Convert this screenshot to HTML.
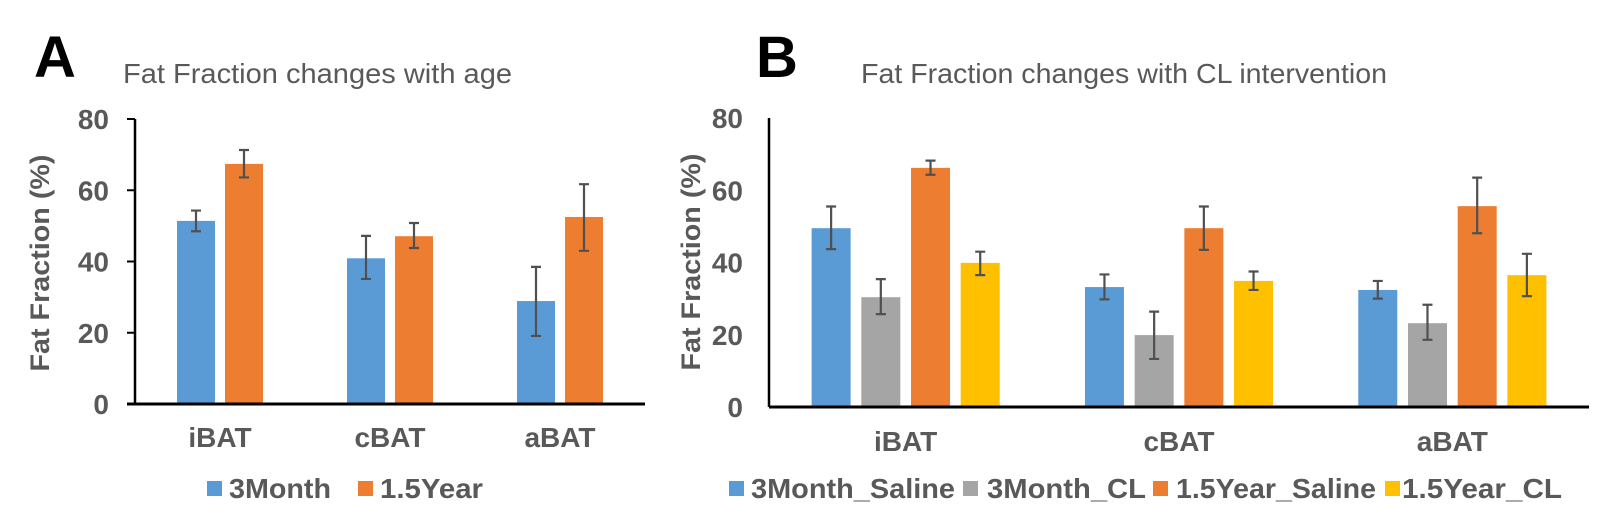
<!DOCTYPE html>
<html><head><meta charset="utf-8"><style>
html,body{margin:0;padding:0;background:#fff;}
svg{display:block;font-family:"Liberation Sans",Arial,sans-serif;}
</style></head><body>
<svg id="fig" width="1612" height="528" viewBox="0 0 1612 528" xmlns="http://www.w3.org/2000/svg">
<text x="34" y="77" font-size="58" font-weight="bold" fill="#000">A</text>
<text x="123" y="83" font-size="28" fill="#595959" textLength="389" lengthAdjust="spacingAndGlyphs">Fat Fraction changes with age</text>
<text x="756" y="77" font-size="58" font-weight="bold" fill="#000">B</text>
<text x="861" y="83" font-size="28" fill="#595959" textLength="526" lengthAdjust="spacingAndGlyphs">Fat Fraction changes with CL intervention</text>
<g id="chartA"></g>
<g id="chartB"></g>
</svg>
<script>
const categories = ["iBAT","cBAT","aBAT"];
const ticks = [0,20,40,60,80];
// Panel A
const seriesA = ["3Month","1.5Year"];
const a3Month = [51.4, 40.9, 28.9];
const a3MonthHi = [54.3, 47.2, 38.5];
const a3MonthLo = [48.5, 35.1, 19.1];
const a15Year = [67.4, 47.1, 52.5];
const a15YearHi = [71.3, 50.8, 61.7];
const a15YearLo = [63.6, 43.8, 43.0];
// Panel B
const seriesB = ["3Month_Saline","3Month_CL","1.5Year_Saline","1.5Year_CL"];
const b3mSaline = [49.5, 33.2, 32.4];
const b3mSalineHi = [55.5, 36.7, 34.9];
const b3mSalineLo = [43.7, 29.8, 30.0];
const b3mCL = [30.4, 19.9, 23.2];
const b3mCLHi = [35.4, 26.4, 28.3];
const b3mCLLo = [25.7, 13.3, 18.6];
const b15ySaline = [66.2, 49.5, 55.6];
const b15ySalineHi = [68.2, 55.5, 63.5];
const b15ySalineLo = [64.3, 43.5, 48.1];
const b15yCL = [39.9, 34.9, 36.5];
const b15yCLHi = [43.0, 37.5, 42.4];
const b15yCLLo = [36.5, 32.4, 30.7];

const NS = "http://www.w3.org/2000/svg";
function mk(parent, tag, attrs, text){
  const e = document.createElementNS(NS, tag);
  for (const k in attrs) e.setAttribute(k, attrs[k]);
  if (text !== undefined) e.textContent = text;
  parent.appendChild(e);
  return e;
}

function drawChart(g, cfg){
  const y = v => cfg.y0 - v * (cfg.y0 - cfg.y80) / 80;
  const catW = (cfg.xEnd - cfg.x0) / 3;
  ticks.forEach(t => {
    const tl = mk(g, "text", {x: cfg.tickRight, y: y(t) + 10, "font-size": 28, "font-weight": "bold", fill: "#595959", "text-anchor": "end"}, String(t));
    
    
    if (cfg.tickMarks){
      const tm = mk(g, "line", {x1: cfg.x0 - 8, x2: cfg.x0, y1: y(t), y2: y(t), stroke: "#000", "stroke-width": 2});
      
      
    }
  });
  const n = cfg.series.length;
  const groupW = n * cfg.bw + (n - 1) * cfg.gap;
  categories.forEach((c, i) => {
    const cx = cfg.x0 + catW * (i + 0.5);
    cfg.series.forEach((s, j) => {
      const v = s.vals[i];
      const bx = cx - groupW / 2 + j * (cfg.bw + cfg.gap);
      const r = mk(g, "rect", {x: bx, y: y(v), width: cfg.bw, height: cfg.y0 - y(v), fill: s.color});
      
      
      const ex = bx + cfg.bw / 2;
      const eb = mk(g, "path", {d: `M${ex},${y(s.hi[i])}V${y(s.lo[i])}M${ex-5},${y(s.hi[i])}H${ex+5}M${ex-5},${y(s.lo[i])}H${ex+5}`, stroke: "#505050", "stroke-width": 2.2, fill: "none"});
      
      
    });
    const cl = mk(g, "text", {x: cx, y: cfg.catY, "font-size": 28, "font-weight": "bold", fill: "#595959", "text-anchor": "middle"}, c);
    
    
  });
  const ya = mk(g, "line", {x1: cfg.x0, x2: cfg.x0, y1: cfg.y80, y2: cfg.y0, stroke: "#000", "stroke-width": 2.5});
  
  
  const xa = mk(g, "line", {x1: cfg.x0 - (cfg.tickMarks ? 8 : 0), x2: cfg.xEnd, y1: cfg.y0, y2: cfg.y0, stroke: "#000", "stroke-width": 3});
  
  
  const yt = mk(g, "text", {x: 0, y: 0, transform: `translate(${cfg.yTitleX},${cfg.yTitleMid}) rotate(-90)`, "font-size": 27, "font-weight": "bold", fill: "#595959", "text-anchor": "middle", textLength: 217, lengthAdjust: "spacingAndGlyphs"}, "Fat Fraction (%)");
  
  
  cfg.series.forEach((s, j) => {
    const L = cfg.legend[j];
    const sq = mk(g, "rect", {x: L[0], y: 481, width: 15, height: 15, fill: s.color});
    
    
    const lt = mk(g, "text", {x: L[1], y: 498, "font-size": 28, "font-weight": "bold", fill: "#595959", textLength: L[2], lengthAdjust: "spacingAndGlyphs"}, s.name);
    
    
  });
}

drawChart(document.getElementById("chartA"), {
  x0: 135, xEnd: 645, y0: 404, y80: 119, bw: 38, gap: 10, tickRight: 109, tickMarks: true,
  catY: 447, yTitleX: 49, yTitleMid: 263,
  series: [
    {name: seriesA[0], vals: a3Month, hi: a3MonthHi, lo: a3MonthLo, color: "#5B9BD5"},
    {name: seriesA[1], vals: a15Year, hi: a15YearHi, lo: a15YearLo, color: "#ED7D31"}
  ],
  legend: [[207, 229, 102], [358, 380, 103]]
});
drawChart(document.getElementById("chartB"), {
  x0: 769, xEnd: 1589, y0: 407, y80: 118, bw: 39, gap: 10.7, tickRight: 743, tickMarks: false,
  catY: 451, yTitleX: 700, yTitleMid: 262,
  series: [
    {name: seriesB[0], vals: b3mSaline, hi: b3mSalineHi, lo: b3mSalineLo, color: "#5B9BD5"},
    {name: seriesB[1], vals: b3mCL, hi: b3mCLHi, lo: b3mCLLo, color: "#A5A5A5"},
    {name: seriesB[2], vals: b15ySaline, hi: b15ySalineHi, lo: b15ySalineLo, color: "#ED7D31"},
    {name: seriesB[3], vals: b15yCL, hi: b15yCLHi, lo: b15yCLLo, color: "#FFC000"}
  ],
  legend: [[729, 751, 204], [963, 987, 159], [1153, 1176, 200], [1385, 1402, 160]]
});
</script>
</body></html>
